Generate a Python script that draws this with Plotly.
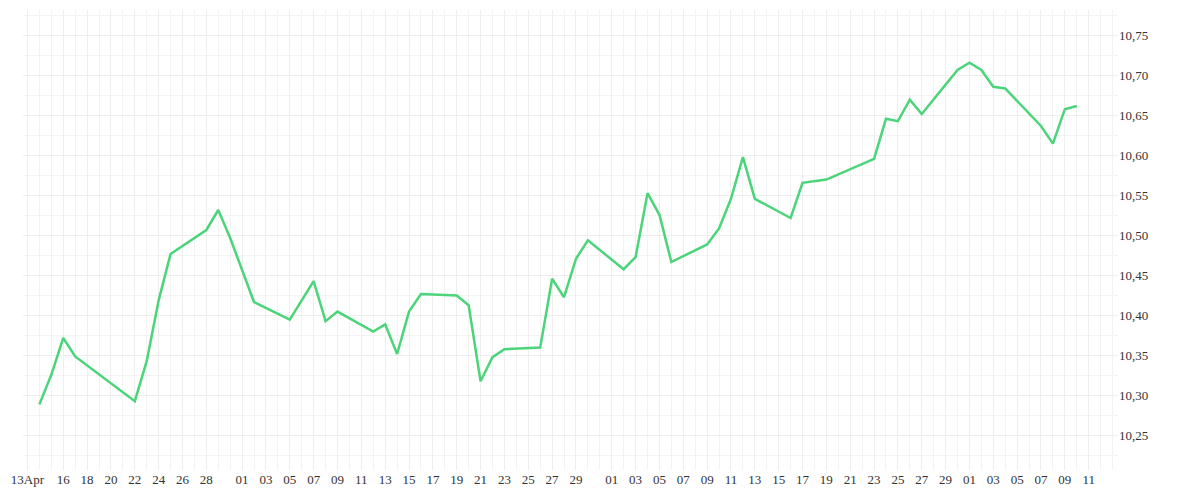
import datetime as dt
import plotly.graph_objects as go

# daily values (Apr 14 - Jul 10)
dates = [
    "2025-04-14", "2025-04-15", "2025-04-16", "2025-04-17", "2025-04-22", "2025-04-23",
    "2025-04-24", "2025-04-25", "2025-04-28", "2025-04-29", "2025-04-30", "2025-05-02",
    "2025-05-05", "2025-05-06", "2025-05-07", "2025-05-08", "2025-05-09", "2025-05-12",
    "2025-05-13", "2025-05-14", "2025-05-15", "2025-05-16", "2025-05-19", "2025-05-20",
    "2025-05-21", "2025-05-22", "2025-05-23", "2025-05-26", "2025-05-27", "2025-05-28",
    "2025-05-29", "2025-05-30", "2025-06-02", "2025-06-03", "2025-06-04", "2025-06-05",
    "2025-06-06", "2025-06-09", "2025-06-10", "2025-06-11", "2025-06-12", "2025-06-13",
    "2025-06-16", "2025-06-17", "2025-06-18", "2025-06-19", "2025-06-23", "2025-06-24",
    "2025-06-25", "2025-06-26", "2025-06-27", "2025-06-30", "2025-07-01", "2025-07-02",
    "2025-07-03", "2025-07-04", "2025-07-07", "2025-07-08", "2025-07-09", "2025-07-10",
]
values = [
    10.289, 10.326, 10.372, 10.349, 10.293, 10.343,
    10.419, 10.477, 10.507, 10.532, 10.497, 10.417,
    10.395, 10.419, 10.443, 10.393, 10.405, 10.380,
    10.389, 10.352, 10.405, 10.427, 10.425, 10.413,
    10.318, 10.348, 10.358, 10.360, 10.446, 10.423,
    10.471, 10.494, 10.458, 10.473, 10.553, 10.526,
    10.467, 10.489, 10.509, 10.546, 10.598, 10.546,
    10.522, 10.566, 10.568, 10.570, 10.596, 10.646,
    10.643, 10.670, 10.652, 10.707, 10.716, 10.707,
    10.686, 10.684, 10.637, 10.615, 10.658, 10.662,
]

# x tick labels every two days
tick_dates = ["2025-04-13"] + ["2025-04-%02d" % d for d in range(16, 29, 2)] \
    + ["2025-05-%02d" % d for d in range(1, 30, 2)] \
    + ["2025-06-%02d" % d for d in range(1, 30, 2)] \
    + ["2025-07-%02d" % d for d in range(1, 12, 2)]
tick_text = ["13Apr"] + [d[-2:] for d in tick_dates[1:]]

fig = go.Figure()
fig.add_trace(go.Scatter(
    x=dates, y=values, mode="lines",
    line=dict(color="#4cd47a", width=2.5),
    hoverinfo="x+y",
))

fig.update_layout(
    width=1200, height=500,
    margin=dict(l=15, r=90, t=2, b=38),
    paper_bgcolor="white", plot_bgcolor="white",
    separators=",.",
    showlegend=False,
    font=dict(family="Liberation Serif", size=13, color="#333333"),
    xaxis=dict(
        type="date",
        range=["2025-04-12 15:00", "2025-07-13 11:00"],
        tickvals=tick_dates, ticktext=tick_text,
        tickfont=dict(color="#333333"),
        showgrid=True, gridcolor="#eeeeee", gridwidth=1,
        minor=dict(dtick=86400000, tick0="2025-04-13", showgrid=True, gridcolor="#f3f3f3"),
        zeroline=False, showline=False,
    ),
    yaxis=dict(
        side="right",
        range=[10.207, 10.782],
        dtick=0.05, tick0=10.25,
        tickformat=".2f",
        tickfont=dict(color="#333333"),
        showgrid=True, gridcolor="#eeeeee",
        minor=dict(dtick=0.025, showgrid=True, gridcolor="#f3f3f3"),
        zeroline=False, showline=False,
    ),
)

fig.write_html("out.html")
